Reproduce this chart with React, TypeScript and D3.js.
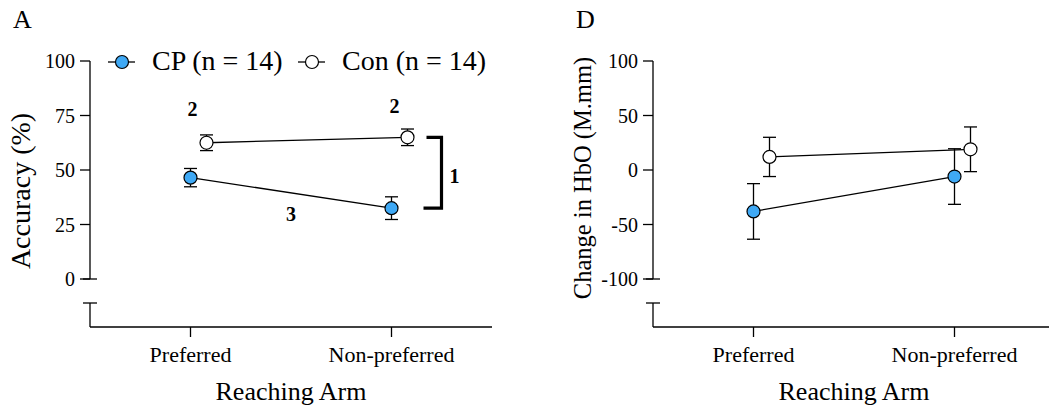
import React from 'react';
import * as d3 from 'd3';

// reaching arm categories
const arms = ['Preferred', 'Non-preferred'];

// panel A: accuracy (%), mean and sem
const accCP = [46.5, 32.5];
const accCPErr = [4.2, 5.2];
const accCon = [62.5, 65];
const accConErr = [3.6, 3.8];
const accTicks = [0, 25, 50, 75, 100];

// panel D: change in HbO (M.mm)
const hboCP = [-38, -6];
const hboCPErr = [25.5, 25.5];
const hboCon = [12, 19];
const hboConErr = [18, 20.5];
const hboTicks = [-100, -50, 0, 50, 100];

const BLUE = '#3fa9f5';
const FONT = '"Liberation Serif", "Times New Roman", serif';
const yTop = 61;
const yBottom = 279;
const breakY = 303;
const xAxisY = 327;
const conShift = 16;

const Series = ({ x, y, vals, errs, fill, dx }) => {
  const pts = vals.map((v, i) => [x(arms[i]) + dx, y(v)]);
  const line = d3.line();
  return (
    <g>
      <path d={line(pts)} fill="none" stroke="#000" strokeWidth={1.3} />
      {vals.map((v, i) => {
        const cx = x(arms[i]) + dx;
        return (
          <g key={i} stroke="#000" strokeWidth={1.3}>
            <line x1={cx} x2={cx} y1={y(v + errs[i])} y2={y(v - errs[i])} />
            <line x1={cx - 6.5} x2={cx + 6.5} y1={y(v + errs[i])} y2={y(v + errs[i])} />
            <line x1={cx - 6.5} x2={cx + 6.5} y1={y(v - errs[i])} y2={y(v - errs[i])} />
          </g>
        );
      })}
      {vals.map((v, i) => (
        <circle key={i} cx={x(arms[i]) + dx} cy={y(v)} r={6.5} fill={fill} stroke="#000" strokeWidth={1.2} />
      ))}
    </g>
  );
};

const Panel = ({ left, right, domain, ticks, title, titleSize, titleX, titleY, label, cp, cpErr, con, conErr, children }) => {
  const y = d3.scaleLinear().domain(domain).range([yBottom, yTop]);
  const x = d3.scalePoint().domain(arms).range([left, right]).padding(0.5);
  const mid = (left + right) / 2;
  return (
    <g fontFamily={FONT} fill="#000">
      <text x={left - 77} y={28} fontSize={26}>{label}</text>
      {/* y axis, upper part */}
      <g stroke="#000" strokeWidth={1.3}>
        <line x1={left} x2={left} y1={yTop} y2={yBottom} />
        <line x1={left - 7} x2={left + 7} y1={yBottom} y2={yBottom} />
        {ticks.map(t => (
          <line key={t} x1={left - 10} x2={left} y1={y(t)} y2={y(t)} />
        ))}
        {/* lower part after the break */}
        <line x1={left - 7} x2={left + 7} y1={breakY} y2={breakY} />
        <line x1={left} x2={left} y1={breakY} y2={xAxisY} />
        <line x1={left} x2={right} y1={xAxisY} y2={xAxisY} />
        {arms.map(a => (
          <line key={a} x1={x(a)} x2={x(a)} y1={xAxisY} y2={xAxisY + 10} />
        ))}
      </g>
      {ticks.map(t => (
        <text key={t} x={left - 15} y={y(t)} dy="0.35em" textAnchor="end" fontSize={20}>{t}</text>
      ))}
      {arms.map(a => (
        <text key={a} x={x(a)} y={362} textAnchor="middle" fontSize={22}>{a}</text>
      ))}
      <text x={mid} y={400} textAnchor="middle" fontSize={26}>Reaching Arm</text>
      <text transform={`translate(${left - titleX},${titleY}) rotate(-90)`} textAnchor="middle" fontSize={titleSize}>{title}</text>
      <Series x={x} y={y} vals={con} errs={conErr} fill="#fff" dx={conShift} />
      <Series x={x} y={y} vals={cp} errs={cpErr} fill={BLUE} dx={0} />
      {children && children(x, y)}
    </g>
  );
};

const LegendItem = ({ x, fill, text }) => (
  <g>
    <line x1={x - 14} x2={x + 13} y1={62} y2={62} stroke="#000" strokeWidth={1.3} />
    <circle cx={x} cy={62} r={6.5} fill={fill} stroke="#000" strokeWidth={1.2} />
    <text x={x + 30} y={70} fontSize={28} fontFamily={FONT}>{text}</text>
  </g>
);

export default function App() {
  return (
    <svg width={1049} height={408} style={{ display: 'block', position: 'absolute', left: 0, top: 0 }}>
      <rect width={1049} height={408} fill="#fff" />
      <Panel left={90} right={492} domain={[0, 100]} ticks={accTicks} title="Accuracy (%)" titleSize={28}
        titleX={60} titleY={191} label="A"
        cp={accCP} cpErr={accCPErr} con={accCon} conErr={accConErr}>
        {(x, y) => (
          <g fontWeight="bold" fontSize={20}>
            <text x={x(arms[0]) + 2} y={y(75)} textAnchor="middle">2</text>
            <text x={x(arms[1]) + 3} y={y(76)} textAnchor="middle">2</text>
            <text x={(x(arms[0]) + x(arms[1])) / 2} y={y(26.5)} textAnchor="middle">3</text>
            <path d={`M${x(arms[1]) + 35},${y(accCon[1])}H${x(arms[1]) + 50}V${y(accCP[1])}H${x(arms[1]) + 32}`}
              fill="none" stroke="#000" strokeWidth={3.2} />
            <text x={x(arms[1]) + 63} y={y(44)} textAnchor="middle">1</text>
          </g>
        )}
      </Panel>
      <LegendItem x={122} fill={BLUE} text="CP (n = 14)" />
      <LegendItem x={312} fill="#fff" text="Con (n = 14)" />
      <Panel left={653} right={1055} domain={[-100, 100]} ticks={hboTicks} title="Change in HbO (M.mm)" titleSize={24.5}
        titleX={62} titleY={178} label="D"
        cp={hboCP} cpErr={hboCPErr} con={hboCon} conErr={hboConErr} />
    </svg>
  );
}
